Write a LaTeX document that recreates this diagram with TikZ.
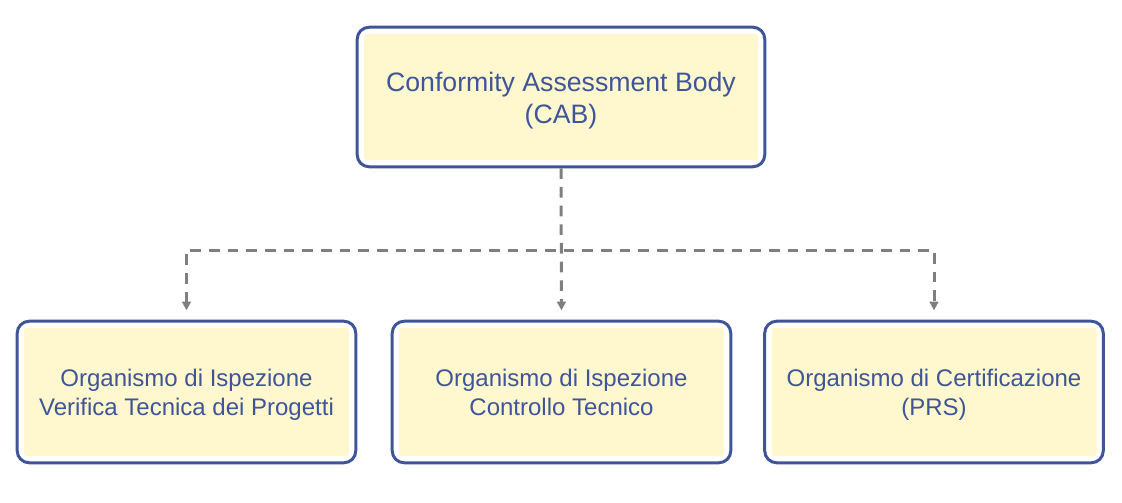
\documentclass[tikz,border=0pt]{standalone}
\usepackage{fontspec}
\setmainfont{Liberation Sans}
\usetikzlibrary{arrows.meta,fit}

\definecolor{cabblue}{RGB}{63,85,151}
\definecolor{cabyellow}{RGB}{255,247,206}
\definecolor{linkgray}{RGB}{127,127,127}

\newcommand{\boxstrut}{\rule{0pt}{1.12em}}

\tikzset{
  >={Triangle[width=6.5pt,length=6.5pt]},
  inbox/.style={fill=cabyellow, rounded corners=2pt, align=center, text=cabblue, inner sep=0pt},
  frame/.style={draw=cabblue, line width=2.25pt, rounded corners=9pt, inner sep=4.9pt},
  link/.style={draw=linkgray, line width=2.25pt, dash pattern=on 8pt off 6pt, shorten >=7pt}
}

\begin{document}
\begin{tikzpicture}[x=0.75pt,y=-0.75pt]
            \useasboundingbox (0,0) rectangle (1122,503);

            \node[inbox, minimum width=295.5pt, minimum height=94.5pt, font=\fontsize{20}{24}\selectfont] (cab) at (561,97) {\boxstrut Conformity Assessment Body\\\strut(CAB)};
            \node[frame, fit=(cab)] (cabframe) {};

            \node[inbox, minimum width=243.75pt, minimum height=96pt, font=\fontsize{18}{21.6}\selectfont] (vtp) at (186.5,392) {\boxstrut Organismo di Ispezione\\\strut Verifica Tecnica dei Progetti};
            \node[frame, fit=(vtp)] (vtpframe) {};

            \node[inbox, minimum width=243.75pt, minimum height=96pt, font=\fontsize{18}{21.6}\selectfont] (ct) at (561.5,392) {\boxstrut Organismo di Ispezione\\\strut Controllo Tecnico};
            \node[frame, fit=(ct)] (ctframe) {};

            \node[inbox, minimum width=243.75pt, minimum height=96pt, font=\fontsize{18}{21.6}\selectfont] (prs) at (934,392) {\boxstrut Organismo di Certificazione\\\strut(PRS)};
            \node[frame, fit=(prs)] (prsframe) {};

            \coordinate (split) at (561,250);
            \draw[link, ->] (cabframe.south) -- (ctframe.north);
            \draw[link, <->, shorten <=7pt] (vtpframe.north) |- (split) -| (prsframe.north);

        \end{tikzpicture}
\end{document}
